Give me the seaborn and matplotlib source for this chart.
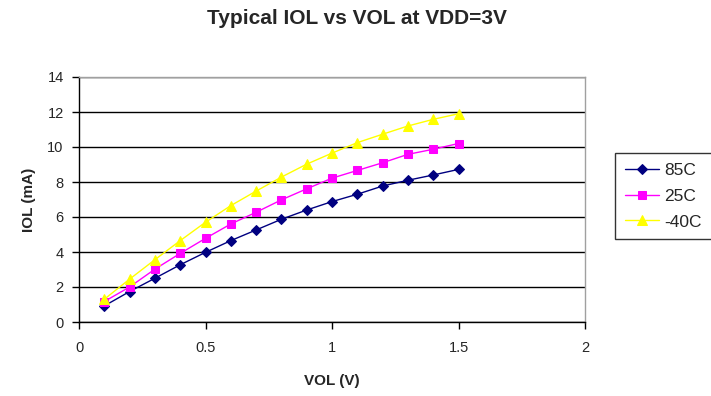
import numpy as np
import pandas as pd
import matplotlib
matplotlib.use("Agg")
import matplotlib.pyplot as plt
import seaborn as sns

# VOL (V) points
vol = [0.1, 0.2, 0.3, 0.4, 0.5, 0.6, 0.7, 0.8, 0.9, 1.0, 1.1, 1.2, 1.3, 1.4, 1.5]

# IOL (mA)
iol_85c = [0.92, 1.74, 2.5, 3.27, 3.98, 4.65, 5.26, 5.87, 6.4, 6.88, 7.3, 7.77, 8.1, 8.4, 8.72]
iol_25c = [1.17, 2.0, 3.02, 3.92, 4.78, 5.6, 6.27, 6.98, 7.61, 8.22, 8.66, 9.1, 9.58, 9.87, 10.2]
iol_m40c = [1.3, 2.45, 3.56, 4.65, 5.7, 6.65, 7.48, 8.28, 9.02, 9.65, 10.25, 10.73, 11.2, 11.58, 11.9]

series = ["85C", "25C", "-40C"]
colors = {"85C": "#000080", "25C": "#FF00FF", "-40C": "#FFFF00"}
markers = {"85C": "D", "25C": "s", "-40C": "^"}
msizes = {"85C": 5, "25C": 6, "-40C": 7}

df = pd.DataFrame({
    "VOL": vol * 3,
    "IOL": iol_85c + iol_25c + iol_m40c,
    "temp": ["85C"] * len(vol) + ["25C"] * len(vol) + ["-40C"] * len(vol),
})

sns.set_style("white")
plt.rcParams["font.family"] = ["Liberation Sans", "DejaVu Sans"]

fig = plt.figure(figsize=(7.11, 3.96), dpi=100)
ax = fig.add_axes([79 / 711, 1 - 322 / 396, (585 - 79) / 711, (322 - 77) / 396])

for t in series:
    sns.lineplot(data=df[df["temp"] == t], x="VOL", y="IOL", ax=ax,
                 color=colors[t], marker=markers[t], markersize=msizes[t],
                 markeredgecolor=colors[t], linewidth=1, label=t)

ax.set_xlim(0, 2)
ax.set_ylim(0, 14)
ax.set_xticks(np.arange(0, 2.01, 0.5))
ax.set_xticklabels(["0", "0.5", "1", "1.5", "2"])
ax.set_yticks(np.arange(0, 15, 2))
ax.yaxis.grid(True, color="black", linewidth=1)
ax.set_axisbelow(True)
for s in ["top", "right"]:
    ax.spines[s].set_color("#A0A0A0")
    ax.spines[s].set_linewidth(1)
for s in ["left", "bottom"]:
    ax.spines[s].set_color("black")
    ax.spines[s].set_linewidth(1)
ax.tick_params(axis="both", direction="out", length=5, width=1, color="black",
               labelsize=10.5, bottom=True, left=True)
ax.tick_params(axis="x", pad=9)
ax.tick_params(axis="y", pad=6)

ax.set_xlabel("VOL (V)", fontsize=11, fontweight="bold", labelpad=13)
ax.set_ylabel("IOL (mA)", fontsize=11, fontweight="bold", labelpad=8)
fig.text(0.5 * (79 + 635) / 711, 1 - 18 / 396, "Typical IOL vs VOL at VDD=3V",
         ha="center", va="center", fontsize=15, fontweight="bold")

leg = ax.legend(loc="upper left", bbox_to_anchor=(615 / 711, 1 - 153 / 396),
                bbox_transform=fig.transFigure, frameon=True, fancybox=False,
                fontsize=12.5, handlelength=2.0, borderpad=0.55, labelspacing=0.62,
                handletextpad=0.3, borderaxespad=0)
leg.get_frame().set_edgecolor("black")
leg.get_frame().set_linewidth(1)

fig.savefig("out.png", dpi=100)
